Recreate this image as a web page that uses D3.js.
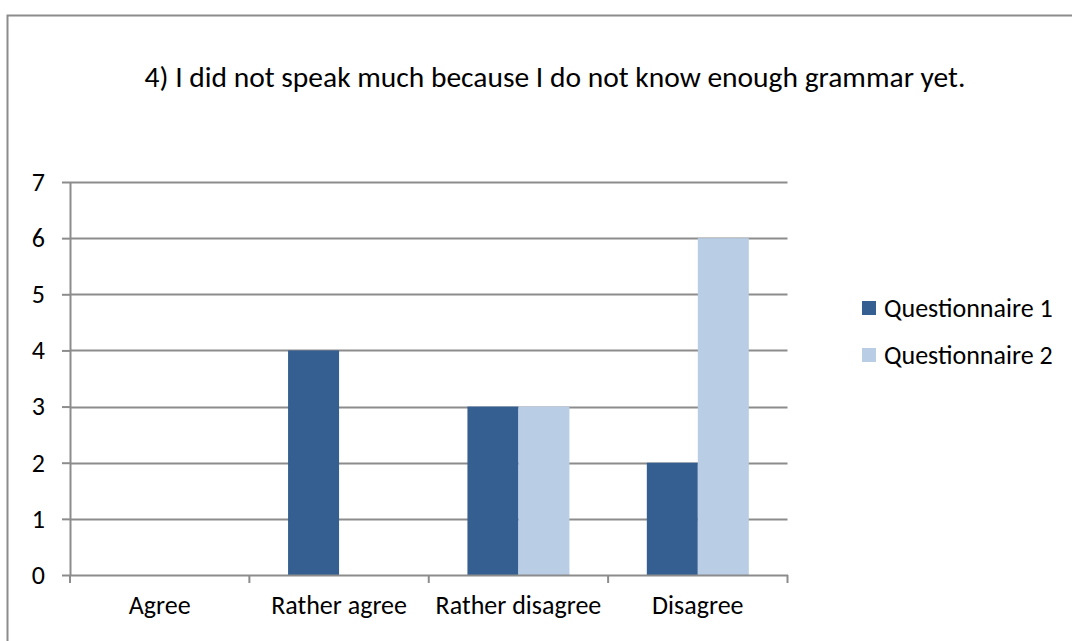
<!DOCTYPE html>
<html>
<head>
<meta charset="utf-8">
<script src="https://cdn.jsdelivr.net/npm/d3@7"></script>
<style>
  html, body { margin: 0; padding: 0; background: #fff; }
  svg { display: block; }
</style>
</head>
<body>
<svg id="chart" width="1072" height="641"></svg>
<script>
const titleText = "4) I did not speak much because I do not know enough grammar yet.";
const categories = ["Agree", "Rather agree", "Rather disagree", "Disagree"];
const seriesNames = ["Questionnaire 1", "Questionnaire 2"];
const q1Values = [0, 4, 3, 2];
const q2Values = [0, 0, 3, 6];
const yTicks = [0, 1, 2, 3, 4, 5, 6, 7];
const colors = ["#355f91", "#b9cde5"];

const FONT = "Carlito, Calibri, Lato, sans-serif";
const svg = d3.select("#chart").attr("font-family", FONT);
const plot = { left: 70, right: 787.5, top: 182, bottom: 575 };
const axisColor = "#8c8c8c";

// outer frame (runs off the right and bottom edges)
svg.append("rect")
  .attr("x", 7.5).attr("y", 15.5)
  .attr("width", 1100).attr("height", 700)
  .attr("fill", "none").attr("stroke", axisColor).attr("stroke-width", 2);

svg.append("text")
  .attr("x", 555).attr("y", 87)
  .attr("text-anchor", "middle")
  .attr("font-size", 29.5)
  .attr("fill", "#000")
  .text(titleText);

const x = d3.scaleBand().domain(categories).range([plot.left, plot.right]);
const y = d3.scaleLinear().domain([0, 7]).range([plot.bottom, plot.top]);
const groupWidth = 102;
const xs = d3.scaleBand().domain(seriesNames).range([0, groupWidth]);

// gridlines
svg.append("g").selectAll("line").data(yTicks.filter(d => d > 0)).join("line")
  .attr("x1", plot.left).attr("x2", plot.right)
  .attr("y1", d => Math.round(y(d)) + 0.5).attr("y2", d => Math.round(y(d)) + 0.5)
  .attr("stroke", axisColor).attr("stroke-width", 2);

// bars
const rows = categories.map((c, i) => ({ cat: c, vals: [q1Values[i], q2Values[i]] }));
const groups = svg.append("g").selectAll("g").data(rows).join("g")
  .attr("transform", d => `translate(${x(d.cat) + (x.bandwidth() - groupWidth) / 2},0)`);
groups.selectAll("rect").data(d => d.vals.map((v, k) => ({ v, s: seriesNames[k], k }))).join("rect")
  .attr("x", d => xs(d.s)).attr("width", xs.bandwidth())
  .attr("y", d => y(d.v)).attr("height", d => y(0) - y(d.v))
  .attr("fill", d => colors[d.k]);

// y axis
const yAxis = svg.append("g").attr("transform", `translate(${plot.left},0)`)
  .call(d3.axisLeft(y).tickValues(yTicks).tickFormat(d3.format("d")).tickSize(8).tickPadding(17).tickSizeOuter(0))
  .attr("font-family", FONT).attr("font-size", 26);
yAxis.select(".domain").attr("stroke", axisColor).attr("stroke-width", 2);
yAxis.selectAll(".tick line").attr("stroke", axisColor).attr("stroke-width", 2);
yAxis.selectAll("text").attr("fill", "#000");

// x axis
const xAxis = svg.append("g").attr("transform", `translate(0,${plot.bottom})`)
  .call(d3.axisBottom(x).tickSize(0).tickPadding(21).tickSizeOuter(0))
  .attr("font-family", FONT).attr("font-size", 26);
xAxis.select(".domain").attr("stroke", axisColor).attr("stroke-width", 2);
xAxis.selectAll("text").attr("fill", "#000");
// boundary ticks between categories
const boundaries = categories.map(c => x(c)).concat([plot.right]);
xAxis.append("g").selectAll("line").data(boundaries).join("line")
  .attr("x1", d => d).attr("x2", d => d).attr("y1", 0).attr("y2", 8)
  .attr("stroke", axisColor).attr("stroke-width", 2);

// legend
const legend = svg.append("g").selectAll("g").data(seriesNames).join("g")
  .attr("transform", (d, i) => `translate(862,${301 + i * 47})`);
legend.append("rect").attr("width", 14).attr("height", 14).attr("fill", (d, i) => colors[i]);
legend.append("text").attr("x", 22).attr("y", 7).attr("dy", "0.35em")
  .attr("font-size", 26).attr("fill", "#000").text(d => d);
</script>
</body>
</html>
